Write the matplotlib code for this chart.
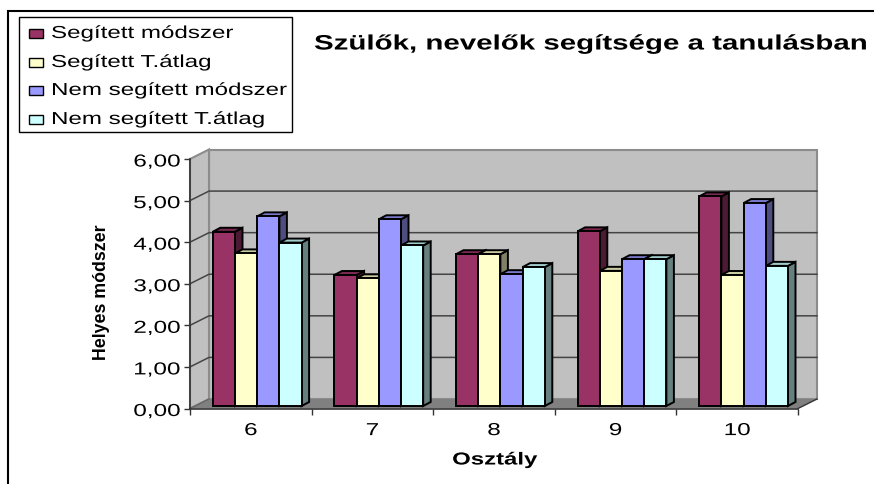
import matplotlib
matplotlib.use("Agg")
import matplotlib.pyplot as plt
from matplotlib.patches import Polygon, Rectangle
from matplotlib.patheffects import AbstractPathEffect
from matplotlib.transforms import Affine2D

# === DATA ===
categories = ["6", "7", "8", "9", "10"]
y_ticks = [0, 1, 2, 3, 4, 5, 6]
y_tick_labels = ["0,00", "1,00", "2,00", "3,00", "4,00", "5,00", "6,00"]
series_names = ["Segített módszer", "Segített T.átlag", "Nem segített módszer", "Nem segített T.átlag"]
segitett_modszer = [4.19, 3.15, 3.65, 4.20, 5.04]
segitett_atlag = [3.67, 3.07, 3.65, 3.25, 3.15]
nem_segitett_modszer = [4.56, 4.49, 3.17, 3.53, 4.88]
nem_segitett_atlag = [3.93, 3.86, 3.34, 3.53, 3.37]

W, H = 874, 485
plt.rcParams["font.family"] = "Liberation Sans"

# pixel geometry of the fake 3D box
AX_L, AX_R, AX_T, AX_B = 190, 798, 160, 409.5
PX = 5 / (AX_R - AX_L)   # data x per pixel
PY = 6 / (AX_B - AX_T)   # data y per pixel
WALL_DX, WALL_DY = 19 * PX, 9.5 * PY
BAR_DX, BAR_DY = 7.5 * PX, 4 * PY
BAR_W = 22.2 * PX
BAR_START = 22.8 * PX
BAR_LIFT = 2.5 * PY

fronts = ["#993366", "#FFFFCC", "#9999FF", "#CCFFFF"]
tops = ["#7A2951", "#CCCCA3", "#7A7ACC", "#A3CCCC"]
sides = ["#4D1A33", "#808066", "#4D4D80", "#668080"]


class StretchX(AbstractPathEffect):
    # the reference text is stretched sideways, scale glyphs around a pixel column
    def __init__(self, sx, x0, dy=0):
        super().__init__()
        self.sx = sx
        self.x0 = x0
        self.dy = dy

    def draw_path(self, renderer, gc, tpath, affine, rgbFace=None):
        stretch = Affine2D().translate(-self.x0, 0).scale(self.sx, 1).translate(self.x0, -self.dy)
        renderer.draw_path(gc, tpath, affine + stretch, rgbFace)


fig = plt.figure(figsize=(W / 100, H / 100), dpi=100)
ax = fig.add_axes([AX_L / W, 1 - AX_B / H, (AX_R - AX_L) / W, (AX_B - AX_T) / H])
ax.set_xlim(0, 5)
ax.set_ylim(0, 6)
for s in ax.spines.values():
    s.set_visible(False)
ax.patch.set_visible(False)


def poly(pts, fc, ec="none", lw=0, z=1):
    ax.add_patch(Polygon(pts, closed=True, facecolor=fc, edgecolor=ec, linewidth=lw, zorder=z, clip_on=False))


# walls and floor
poly([(WALL_DX, WALL_DY), (5 + WALL_DX, WALL_DY), (5 + WALL_DX, 6 + WALL_DY), (WALL_DX, 6 + WALL_DY)], "#C0C0C0", "#8C8C8C", 1.5)
poly([(0, 0), (WALL_DX, WALL_DY), (WALL_DX, 6 + WALL_DY), (0, 6)], "#C0C0C0", "#8C8C8C", 1.5)
poly([(0, 0), (5, 0), (5 + WALL_DX, WALL_DY), (WALL_DX, WALL_DY)], "#808080")

# gridlines, running up the side wall and along the back wall
for t in y_ticks[1:-1]:
    ax.plot([0, WALL_DX, 5 + WALL_DX], [t, t + WALL_DY, t + WALL_DY], color="#444444", lw=1.1, zorder=2, clip_on=False)
ax.plot([0, WALL_DX], [0, WALL_DY], color="#666666", lw=1, zorder=2, clip_on=False)
ax.plot([5, 5 + WALL_DX], [0, WALL_DY], color="#333333", lw=1, zorder=2, clip_on=False)

# bars, left to right so the right neighbour covers the side face
all_series = [segitett_modszer, segitett_atlag, nem_segitett_modszer, nem_segitett_atlag]
z = 3
for c in range(len(categories)):
    for i, vals in enumerate(all_series):
        x0 = c + BAR_START + i * BAR_W
        x1 = x0 + BAR_W
        top = vals[c] + BAR_LIFT
        poly([(x1, BAR_LIFT), (x1 + BAR_DX, BAR_LIFT + BAR_DY), (x1 + BAR_DX, top + BAR_DY), (x1, top)], sides[i], "black", 1.4, z)
        poly([(x0, top), (x1, top), (x1 + BAR_DX, top + BAR_DY), (x0 + BAR_DX, top + BAR_DY)], tops[i], "black", 1.4, z)
        ax.bar(x0, vals[c], BAR_W, bottom=BAR_LIFT, align="edge", color=fronts[i], edgecolor="black", linewidth=1.4, zorder=z + 0.5)
        z += 1

# axes
for side in ["left", "bottom"]:
    ax.spines[side].set_visible(True)
    ax.spines[side].set_color("#333333")
    ax.spines[side].set_linewidth(1.2)
ax.spines["bottom"].set_zorder(2)
ax.set_yticks(y_ticks)
ax.set_yticklabels(y_tick_labels, fontsize=12.5)
ax.set_xticks(range(6))
ax.set_xticklabels([])
ax.set_xticks([i + 0.5 for i in range(5)], minor=True)
ax.set_xticklabels(categories, minor=True, fontsize=12.5)
ax.tick_params(axis="x", which="major", length=4, width=1, color="#333333", direction="out")
ax.tick_params(axis="x", which="minor", length=0, pad=10.5)
ax.tick_params(axis="y", length=4.5, width=1, color="#333333", pad=2.5)

for lab in ax.get_yticklabels():
    lab.set_path_effects([StretchX(1.4, 180, dy=1.5)])
for i, lab in enumerate(ax.get_xticklabels(minor=True)):
    lab.set_path_effects([StretchX(1.4, AX_L + (i + 0.5) * (AX_R - AX_L) / 5)])

fig.text(102 / W, 1 - 292 / H, "Helyes módszer", rotation=90, ha="center", va="center", fontsize=12.8, fontweight="bold")
t = fig.text(495 / W, 1 - 461 / H, "Osztály", ha="center", va="center", fontsize=12.5, fontweight="bold")
t.set_path_effects([StretchX(1.38, 495)])
t = fig.text(314 / W, 1 - 45 / H, "Szülők, nevelők segítsége a tanulásban", ha="left", va="center", fontsize=15, fontweight="bold")
t.set_path_effects([StretchX(1.415, 314)])

# outer frame and legend box, in figure pixels
fig.add_artist(Rectangle((8 / W, -10 / H), 880 / W, (H - 12 + 10) / H, transform=fig.transFigure, fill=False, edgecolor="black", linewidth=1.5))
fig.add_artist(Rectangle((19 / W, 1 - 133 / H), 273 / W, 115 / H, transform=fig.transFigure, facecolor="white", edgecolor="black", linewidth=1))
leg_y = [33, 62, 90, 119]
for name, col, yy in zip(series_names, fronts, leg_y):
    fig.add_artist(Rectangle((29 / W, 1 - (yy + 6) / H), 14 / W, 9 / H, transform=fig.transFigure, facecolor=col, edgecolor="black", linewidth=1))
    t = fig.text(51 / W, 1 - (yy + 1.5) / H, name, ha="left", va="center", fontsize=12.5)
    t.set_path_effects([StretchX(1.39, 51)])

fig.savefig("out.png", dpi=100)
